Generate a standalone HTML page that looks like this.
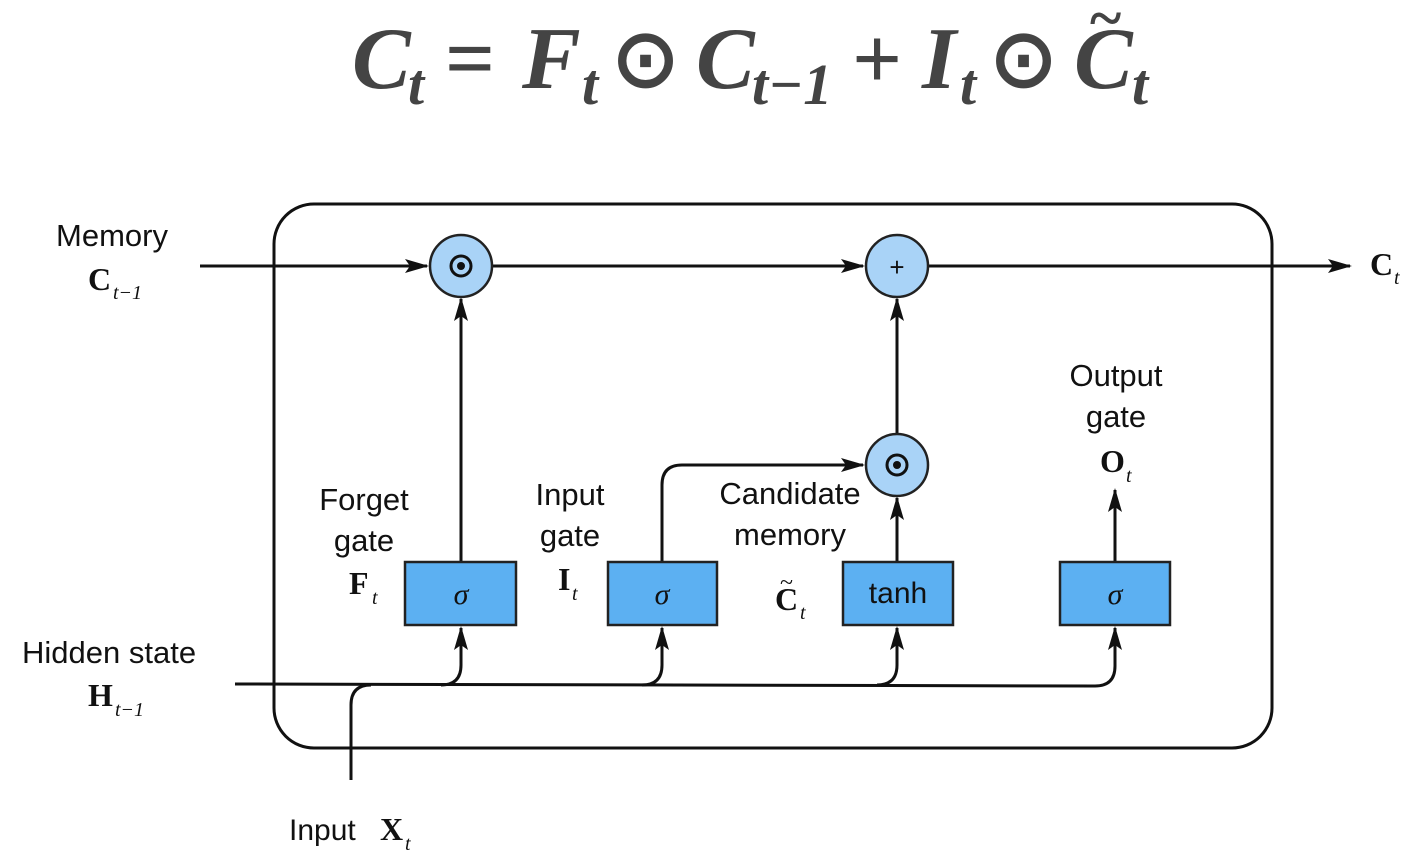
<!DOCTYPE html>
<html><head><meta charset="utf-8"><style>
html,body{margin:0;padding:0;background:#fff;}
svg{display:block;}
text{font-family:"Liberation Sans",sans-serif;}
text.r{font-family:"Liberation Serif",serif;}
.s{font-family:"Liberation Serif",serif;font-weight:bold;}
.i{font-family:"Liberation Serif",serif;font-style:italic;}
.eq text{font-family:"Liberation Serif",serif;font-weight:bold;font-style:italic;}
</style></head><body>
<svg width="1413" height="858" viewBox="0 0 1413 858" xmlns="http://www.w3.org/2000/svg">
<defs>
<marker id="b" markerWidth="24" markerHeight="14" refX="22" refY="7" orient="auto" markerUnits="userSpaceOnUse">
<path d="M0,0 L24,7 L0,14 L5,7 z" fill="#111"/></marker>
</defs>
<g class="eq" fill="#444">
<text x="352" y="88" font-size="88">C</text>
<text x="408" y="104" font-size="58">t</text>
<text x="445" y="88" font-size="88" style="font-style:normal">=</text>
<text x="522" y="88" font-size="88">F</text>
<text x="582" y="104" font-size="58">t</text>
<text x="612" y="86" font-size="80" style="font-style:normal">⊙</text>
<text x="696" y="88" font-size="88">C</text>
<text x="752" y="104" font-size="58">t−1</text>
<text x="852" y="88" font-size="88" style="font-style:normal">+</text>
<text x="922" y="88" font-size="88">I</text>
<text x="960" y="104" font-size="58">t</text>
<text x="990" y="86" font-size="80" style="font-style:normal">⊙</text>
<text x="1074" y="88" font-size="88">C</text>
<text x="1090" y="38" font-size="60" style="font-style:normal">~</text>
<text x="1132" y="104" font-size="58">t</text>
</g>
<rect x="274" y="204" width="998" height="544" rx="40" fill="none" stroke="#111" stroke-width="3"/>
<g stroke="#111" stroke-width="3" fill="none">
<line x1="200" y1="266" x2="427" y2="266" marker-end="url(#b)"/>
<line x1="493" y1="266" x2="863" y2="266" marker-end="url(#b)"/>
<line x1="929" y1="266" x2="1350" y2="266" marker-end="url(#b)"/>
<line x1="461" y1="562" x2="461" y2="299" marker-end="url(#b)"/>
<line x1="897" y1="433" x2="897" y2="299" marker-end="url(#b)"/>
<line x1="897" y1="562" x2="897" y2="498" marker-end="url(#b)"/>
<path d="M662,562 V485 Q662,465 682,465 H863" marker-end="url(#b)"/>
<line x1="1115" y1="562" x2="1115" y2="490" marker-end="url(#b)"/>
<path d="M235,684 L1095,686 Q1115,686 1115,666 V628" marker-end="url(#b)"/>
<path d="M441,685 Q461,685 461,665 V628" marker-end="url(#b)"/>
<path d="M642,685 Q662,685 662,665 V628" marker-end="url(#b)"/>
<path d="M877,685 Q897,685 897,665 V628" marker-end="url(#b)"/>
<path d="M351,780 V705 Q351,685 371,685"/>
</g>
<g stroke="#222" stroke-width="2.5" fill="#a9d3f7">
<circle cx="461" cy="266" r="31"/><circle cx="897" cy="266" r="31"/><circle cx="897" cy="465" r="31"/>
</g>
<g fill="none" stroke="#111" stroke-width="3">
<circle cx="461" cy="266" r="10"/><circle cx="897" cy="465" r="10"/></g>
<circle cx="461" cy="266" r="4" fill="#111"/><circle cx="897" cy="465" r="4" fill="#111"/>
<text x="897" y="276" font-size="26" text-anchor="middle" fill="#111">+</text>
<g stroke="#222" stroke-width="2.5" fill="#5cb0f2">
<rect x="405" y="562" width="111" height="63"/><rect x="608" y="562" width="109" height="63"/>
<rect x="843" y="562" width="110" height="63"/><rect x="1060" y="562" width="110" height="63"/>
</g>
<g font-size="30" fill="#111" text-anchor="middle">
<text x="461" y="604" class="i">σ</text>
<text x="662" y="604" class="i">σ</text>
<text x="898" y="603">tanh</text>
<text x="1115" y="604" class="i">σ</text>
</g>
<g font-size="31" fill="#111">
<text x="56" y="246">Memory</text>
<text x="88" y="290" class="s" font-size="32">C</text><text x="113" y="299" font-size="20" class="i">t−1</text>
<text x="1370" y="275" class="s" font-size="32">C</text><text x="1394" y="284" font-size="20" class="i">t</text>
<text x="22" y="663">Hidden state</text>
<text x="88" y="706" class="s" font-size="32">H</text><text x="115" y="716" font-size="20" class="i">t−1</text>
<text x="289" y="840" font-size="30">Input</text>
<text x="380" y="840" class="s" font-size="32">X</text><text x="405" y="850" font-size="20" class="i">t</text>
<text x="364" y="510" text-anchor="middle">Forget</text>
<text x="364" y="551" text-anchor="middle">gate</text>
<text x="349" y="594" class="s" font-size="32">F</text><text x="372" y="604" font-size="20" class="i">t</text>
<text x="570" y="505" text-anchor="middle">Input</text>
<text x="570" y="546" text-anchor="middle">gate</text>
<text x="558" y="590" class="s" font-size="32">I</text><text x="572" y="600" font-size="20" class="i">t</text>
<text x="790" y="504" text-anchor="middle">Candidate</text>
<text x="790" y="545" text-anchor="middle">memory</text>
<text x="775" y="610" class="s" font-size="32">C</text><text x="780" y="590" font-size="24" class="r">~</text><text x="800" y="619" font-size="20" class="i">t</text>
<text x="1116" y="386" text-anchor="middle">Output</text>
<text x="1116" y="427" text-anchor="middle">gate</text>
<text x="1100" y="472" class="s" font-size="32">O</text><text x="1126" y="482" font-size="20" class="i">t</text>
</g>
</svg>
</body></html>
